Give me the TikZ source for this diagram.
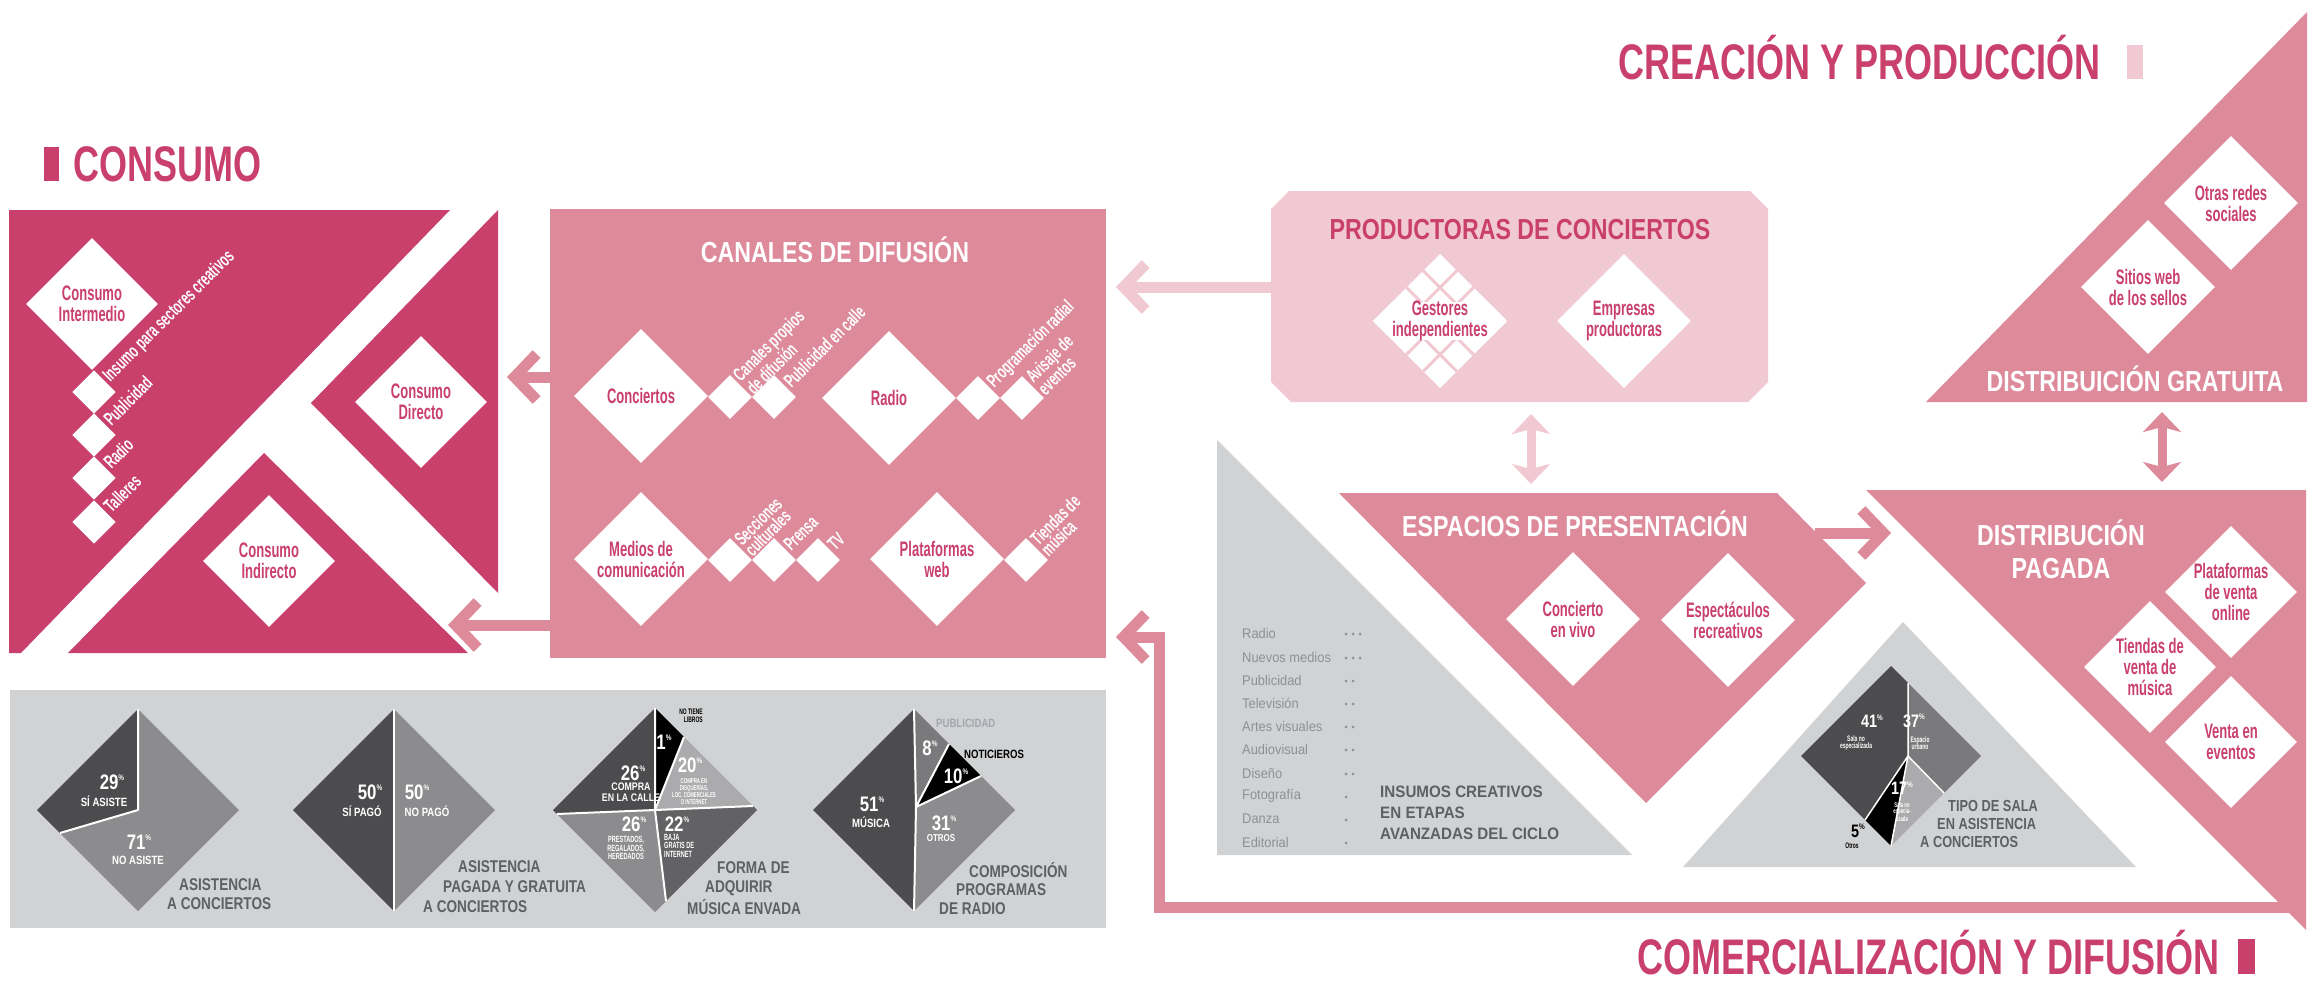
\documentclass[tikz,border=0pt]{standalone}
\usepackage{fontspec}
\setmainfont{Liberation Sans}
\newfontfamily\narrowfont[FakeStretch=0.62]{Liberation Sans}
\newfontfamily\titlefont[FakeStretch=0.8]{Liberation Sans}
\newfontfamily\headfont[FakeStretch=0.72]{Liberation Sans}
\newfontfamily\listfont[FakeStretch=0.92]{Liberation Sans}
\usetikzlibrary{shapes.geometric,arrows.meta}

\definecolor{deeppink}{HTML}{C9406C}
\definecolor{midpink}{HTML}{DD8A9B}
\definecolor{palepink}{HTML}{F1C9D2}
\definecolor{panelgray}{HTML}{D1D2D4}
\definecolor{inkgray}{HTML}{5F6062}
\definecolor{listgray}{HTML}{8F9092}
\definecolor{pieA}{HTML}{4C4C4E}
\definecolor{pieB}{HTML}{8C8C8E}
\definecolor{pieC}{HTML}{ABABAD}
\definecolor{pieD}{HTML}{626264}
\definecolor{pieE}{HTML}{7A7A7C}
\definecolor{pubgray}{HTML}{A4A5AE}

\newcommand\pctsign{\raisebox{0.42em}{\fontsize{8}{8}\selectfont\%}}

\begin{document}
\begin{tikzpicture}[x=1pt,y=-1pt,
  gem/.style={diamond,fill=white,inner sep=0pt,minimum width=#1,minimum height=#1},
  gem/.default=134pt,
  gemtext/.style={font={\narrowfont\bfseries\fontsize{21}{21}\selectfont},text=deeppink,align=center,inner sep=0pt},
  chip/.style={diamond,fill=white,inner sep=0pt,minimum width=44pt,minimum height=44pt},
  tag/.style={font={\narrowfont\bfseries\fontsize{19}{15}\selectfont},text=white,rotate=45,anchor=west,align=left,inner sep=1pt},
  section/.style={font={\titlefont\bfseries\fontsize{29}{33}\selectfont},text=white,align=center,inner sep=0pt},
  headline/.style={font={\headfont\bfseries\fontsize{50}{50}\selectfont},text=deeppink,inner sep=0pt},
  pct/.style={font={\titlefont\bfseries\fontsize{21}{21}\selectfont},text=white,inner sep=0pt},
  note/.style={font={\titlefont\bfseries\fontsize{12}{11.5}\selectfont},text=white,align=center,inner sep=0pt},
  tiny/.style={font={\narrowfont\bfseries\fontsize{9}{8.5}\selectfont},text=white,align=center,inner sep=0pt},
  caption/.style={font={\titlefont\bfseries\fontsize{17}{20}\selectfont},text=inkgray,inner sep=0pt,anchor=west},
  listitem/.style={font={\listfont\fontsize{14}{14}\selectfont},text=listgray,inner sep=0pt,anchor=west},
  flow/.style={line width=11pt,-{Straight Barb[length=22pt,width=46pt,sharp]}},
  twoway/.style={line width=9pt,{Stealth[length=20pt,width=38pt,inset=5pt]}-{Stealth[length=20pt,width=38pt,inset=5pt]}},
  seam/.style={white,line width=2pt,line join=round},
]
\fill[white] (0,0) rectangle (2319,982);
\useasboundingbox (0,0) rectangle (2319,982);

% ---------- headlines ----------
\fill[deeppink] (44,147) rectangle (59,181);
\node[headline,anchor=base west] (hcons) at (73,181) {CONSUMO};
\fill[palepink] (2127,45) rectangle (2143,79);
\node[headline,anchor=base east] (hcrea) at (2101,79) {CREACIÓN Y PRODUCCIÓN};
\fill[deeppink] (2238,939) rectangle (2255,974);
\node[headline,anchor=base east] (hcom) at (2220,974) {COMERCIALIZACIÓN Y DIFUSIÓN};

% ---------- consumo block ----------
\fill[deeppink] (9,210) -- (450,210) -- (21,653) -- (9,653) -- cycle;
\fill[deeppink] (498,210) -- (498,593) -- (311,403) -- cycle;
\fill[deeppink] (264,453) -- (468,653) -- (68,653) -- cycle;

\node[gem=132pt] (cint) at (92,304) {};
\node[gemtext] (cintT) at (cint) {Consumo\\Intermedio};
\foreach \yy/\lab [count=\i] in {392/Insumo para sectores creativos,435/Publicidad,478/Radio,522/Talleres}{
  \node[chip,minimum width=43.4pt,minimum height=43.4pt] (cchip\i) at (94,\yy) {};
  \node[tag] (ctag\i) at (106,\yy-12) {\lab};
}
\node[gem=132pt] (cdir) at (421,402) {};
\node[gemtext] (cdirT) at (cdir) {Consumo\\Directo};
\node[gem=132pt] (cind) at (269,561) {};
\node[gemtext] (cindT) at (cind) {Consumo\\Indirecto};

% ---------- canales de difusion ----------
\node[fill=midpink,minimum width=556pt,minimum height=449pt,inner sep=0pt,anchor=north west] (canales) at (550,209) {};
\node[section] (canT) at (835,250) {CANALES DE DIFUSIÓN};

\node[gem] (conc) at (641,396) {};
\node[gemtext] (concT) at (conc) {Conciertos};
\node[chip] (k1) at (730,397) {};
\node[chip] (k2) at (774,397) {};
\node[tag] (t1) at (742,385) {Canales propios\\de difusión};
\node[tag] (t2) at (786,385) {Publicidad en calle};

\node[gem] (radio) at (889,398) {};
\node[gemtext] (radioT) at (radio) {Radio};
\node[chip] (k3) at (978,398) {};
\node[chip] (k4) at (1022,398) {};
\node[tag] (t3) at (990,386) {Programación radial};
\node[tag] (t4) at (1034,386) {Avisaje de\\eventos};

\node[gem] (medios) at (641,559) {};
\node[gemtext] (mediosT) at (medios) {Medios de\\comunicación};
\node[chip] (k5) at (730,560) {};
\node[chip] (k6) at (774,560) {};
\node[chip] (k7) at (818,560) {};
\node[tag] (t5) at (742,548) {Secciones\\culturales};
\node[tag] (t6) at (786,548) {Prensa};
\node[tag] (t7) at (830,548) {TV};

\node[gem] (plat) at (937,559) {};
\node[gemtext] (platT) at (plat) {Plataformas\\web};
\node[chip] (k8) at (1026,560) {};
\node[tag] (t8) at (1038,548) {Tiendas de\\música};

% arrows canales -> consumo
\coordinate (dirTip) at (507,377);
\coordinate (indTip) at (448,625);
\draw[flow,midpink] (canales.west |- dirTip) -- (dirTip);
\draw[flow,midpink] (canales.west |- indTip) -- (indTip);

% ---------- productoras ----------
\fill[palepink] (1289,191) -- (1750,191) -- (1768,209) -- (1768,382) -- (1748,402)
  -- (1291,402) -- (1271,382) -- (1271,209) -- cycle;
\node[section,text=deeppink] (prodT) at (1520,230) {PRODUCTORAS DE CONCIERTOS};
\coordinate (prodW) at (1271,287);
\coordinate (prodTip) at (1116,287);
\draw[flow,palepink] (prodW) -- (prodTip);

\begin{scope}
  \clip (1440,254) -- (1507,321) -- (1440,388) -- (1373,321) -- cycle;
  \fill[white] (1373,254) rectangle (1507,388);
  \foreach \c in {1727.5,1761,1794.5}
    \draw[palepink,line width=3pt] (\c-250,250) -- (\c-395,395);
  \foreach \d in {1085.5,1119,1152.5}
    \draw[palepink,line width=3pt] (\d+250,250) -- (\d+395,395);
  \fill[white] (1373,302) rectangle (1507,340);
\end{scope}
\node[gemtext] (gest) at (1440,321) {Gestores\\independientes};
\node[gem] (empr) at (1624,321) {};
\node[gemtext] (emprT) at (empr) {Empresas\\productoras};

\coordinate (prodS) at (1531,414);
\coordinate (espN) at (1531,484);
\draw[twoway,palepink] (prodS) -- (espN);

% ---------- insumos creativos ----------
\fill[panelgray] (1217,440) -- (1632,855) -- (1217,855) -- cycle;
\foreach \nm/\nd/\yy [count=\i] in {Radio/3/633,Nuevos medios/3/657,Publicidad/2/680,Televisión/2/703,Artes visuales/2/726,Audiovisual/2/749,Diseño/2/773,Fotografía/1/796,Danza/1/819,Editorial/1/842}{
  \node[listitem] (ins\i) at (1242,\yy) {\nm};
  \foreach \k in {1,...,\nd} \fill[listgray] (1339+7*\k,\yy+1) circle (1.5pt);
}
\node[caption,font={\listfont\bfseries\fontsize{16.5}{21}\selectfont},align=left,anchor=north west] (insT) at (1380,786)
  {INSUMOS CREATIVOS\\EN ETAPAS\\AVANZADAS DEL CICLO};

% ---------- espacios de presentacion ----------
\fill[midpink] (1339,493) -- (1777,493) -- (1866,583) -- (1646,803) -- cycle;
\node[section] (espT) at (1575,524) {ESPACIOS DE PRESENTACIÓN};
\node[gem] (cviv) at (1573,619) {};
\node[gemtext] (cvivT) at (cviv) {Concierto\\en vivo};
\node[gem] (espc) at (1728,620) {};
\node[gemtext] (espcT) at (espc) {Espectáculos\\recreativos};

% ---------- distribucion gratuita ----------
\fill[midpink] (1926,402) -- (2307,402) -- (2307,12) -- cycle;
\node[gem] (otras) at (2231,203) {};
\node[gemtext] (otrasT) at (otras) {Otras redes\\sociales};
\node[gem] (sitios) at (2148,287) {};
\node[gemtext] (sitiosT) at (sitios) {Sitios web\\de los sellos};
\node[section] (gratT) at (2135,379) {DISTRIBUICIÓN GRATUITA};

\coordinate (gratS) at (2162,412);
\coordinate (pagN) at (2162,482);
\draw[twoway,midpink] (gratS) -- (pagN);

% ---------- distribucion pagada ----------
\fill[midpink] (1866,490) -- (2306,490) -- (2306,930) -- cycle;
\node[section] (pagT) at (2061,549) {DISTRIBUCIÓN\\PAGADA};
\node[gem=132pt] (pven) at (2231,592) {};
\node[gemtext] (pvenT) at (pven) {Plataformas\\de venta\\online};
\node[gem=132pt] (tven) at (2150,667) {};
\node[gemtext] (tvenT) at (tven) {Tiendas de\\venta de\\música};
\node[gem=132pt] (even) at (2231,742) {};
\node[gemtext] (evenT) at (even) {Venta en\\eventos};

\coordinate (espE) at (1815,533);
\coordinate (pagW) at (1891,533);
\draw[flow,midpink] (espE) -- (pagW);

% return path towards canales
\coordinate (ret0) at (2292,907);
\coordinate (ret1) at (1159,637);
\coordinate (retTip) at (1116,637);
\draw[flow,midpink,line join=miter] (ret0) -| (ret1) -- (retTip);

% ---------- tipo de sala ----------
\fill[panelgray] (1903,622) -- (2136,867) -- (1683,867) -- cycle;
\fill[pieA] (1801,756) -- (1891,666) -- (1908,683) -- (1908,756) -- (1865,820) -- cycle;
\fill[pieE] (1908,683) -- (1981,756) -- (1944,793) -- (1908,756) -- cycle;
\fill[pieC] (1908,756) -- (1944,793) -- (1891,846) -- cycle;
\fill[black] (1908,756) -- (1891,846) -- (1865,820) -- cycle;
\draw[seam,line width=1.5pt] (1908,683) -- (1908,756) -- (1944,793);
\draw[seam,line width=1.5pt] (1865,820) -- (1908,756) -- (1891,846);
\node[pct,font={\titlefont\bfseries\fontsize{18}{18}\selectfont}] (s41) at (1872,721) {41\pctsign};
\node[tiny,font={\narrowfont\bfseries\fontsize{8}{7.5}\selectfont}] (s41l) at (1856,743) {Sala no\\especializada};
\node[pct,font={\titlefont\bfseries\fontsize{18}{18}\selectfont}] (s37) at (1914,721) {37\pctsign};
\node[tiny,font={\narrowfont\bfseries\fontsize{8}{7.5}\selectfont}] (s37l) at (1920,743) {Espacio\\urbano};
\node[pct,font={\titlefont\bfseries\fontsize{18}{18}\selectfont}] (s17) at (1902,788) {17\pctsign};
\node[tiny,font={\narrowfont\bfseries\fontsize{7}{6.5}\selectfont}] (s17l) at (1902,812) {Sala no\\especia-\\lizada};
\node[pct,text=black,font={\titlefont\bfseries\fontsize{18}{18}\selectfont}] (s5) at (1858,831) {5\pctsign};
\node[tiny,text=black,font={\narrowfont\bfseries\fontsize{8}{8}\selectfont}] (s5l) at (1852,846) {Otros};
\node[caption,font={\titlefont\bfseries\fontsize{16}{16}\selectfont}] (tipo1) at (1948,806) {TIPO DE SALA};
\node[caption,font={\titlefont\bfseries\fontsize{16}{16}\selectfont}] (tipo2) at (1937,824) {EN ASISTENCIA};
\node[caption,font={\titlefont\bfseries\fontsize{16}{16}\selectfont}] (tipo3) at (1920,842) {A CONCIERTOS};

% ---------- bottom panel of charts ----------
\node[fill=panelgray,minimum width=1096pt,minimum height=238pt,inner sep=0pt,anchor=north west] (panel) at (10,690) {};

% asistencia a conciertos
\fill[pieB] (138,709) -- (239,810) -- (138,911) -- (60,833) -- (138,810) -- cycle;
\fill[pieA] (37,810) -- (138,709) -- (138,810) -- (60,833) -- cycle;
\draw[seam] (138,709) -- (138,810) -- (60,833);
\node[pct] (a29) at (112,782) {29\pctsign};
\node[note] (a29l) at (104,801) {SÍ ASISTE};
\node[pct] (a71) at (139,842) {71\pctsign};
\node[note] (a71l) at (138,860) {NO ASISTE};
\node[caption] (a1) at (179,885) {ASISTENCIA};
\node[caption] (a2) at (167,904) {A CONCIERTOS};

% asistencia pagada y gratuita
\fill[pieA] (293,810) -- (394,709) -- (394,911) -- cycle;
\fill[pieB] (495,810) -- (394,709) -- (394,911) -- cycle;
\draw[seam] (394,709) -- (394,911);
\node[pct] (b50a) at (370,792) {50\pctsign};
\node[note] (b50al) at (362,811) {SÍ PAGÓ};
\node[pct] (b50b) at (417,792) {50\pctsign};
\node[note] (b50bl) at (427,811) {NO PAGÓ};
\node[caption] (b1) at (458,867) {ASISTENCIA};
\node[caption] (b2) at (443,887) {PAGADA Y GRATUITA};
\node[caption] (b3) at (423,907) {A CONCIERTOS};

% forma de adquirir musica
\fill[pieA] (557,814) -- (553,810) -- (655,708) -- (655,810) -- cycle;
\fill[black] (655,708) -- (684,737) -- (655,810) -- cycle;
\fill[pieC] (684,737) -- (753,806) -- (655,810) -- cycle;
\fill[pieD] (655,810) -- (753,806) -- (757,810) -- (666,901) -- cycle;
\fill[pieB] (557,814) -- (655,810) -- (666,901) -- (655,912) -- cycle;
\draw[seam] (557,814) -- (655,810) -- (753,806);
\draw[seam] (655,708) -- (655,810) -- (666,901);
\draw[seam] (684,737) -- (655,810);
\node[pct] (f1) at (664,742) {1\pctsign};
\node[tiny,text=black,align=right,font={\narrowfont\bfseries\fontsize{8}{8}\selectfont}] (f1l) at (691,716) {NO TIENE\\LIBROS};
\node[pct] (f26a) at (633,773) {26\pctsign};
\node[note,font={\titlefont\bfseries\fontsize{11}{10.5}\selectfont}] (f26al) at (631,792) {COMPRA\\EN LA CALLE};
\node[pct] (f20) at (690,765) {20\pctsign};
\node[tiny,font={\narrowfont\bfseries\fontsize{7}{7}\selectfont}] (f20l) at (694,792) {COMPRA EN\\DISQUERÍAS,\\LOC. COMERCIALES\\O INTERNET};
\node[pct] (f26b) at (634,824) {26\pctsign};
\node[tiny,font={\narrowfont\bfseries\fontsize{9}{8.5}\selectfont}] (f26bl) at (626,848) {PRESTADOS,\\REGALADOS,\\HEREDADOS};
\node[pct] (f22) at (677,824) {22\pctsign};
\node[tiny,align=left,anchor=north west,font={\narrowfont\bfseries\fontsize{9}{8.5}\selectfont}] (f22l) at (664,834) {BAJA\\GRATIS DE\\INTERNET};
\node[caption] (fc1) at (717,868) {FORMA DE};
\node[caption] (fc2) at (705,888) {ADQUIRIR};
\node[caption] (fc3) at (687,907) {MÚSICA ENVADA};

% composicion programas de radio
\fill[pieA] (813,810) -- (914,709) -- (916,807) -- (914,911) -- cycle;
\fill[pieE] (914,709) -- (949,744) -- (916,807) -- cycle;
\fill[black] (949,744) -- (981,776) -- (916,807) -- cycle;
\fill[pieB] (916,807) -- (981,776) -- (1015,810) -- (914,911) -- cycle;
\draw[seam] (914,709) -- (916,807) -- (914,911);
\draw[seam] (949,744) -- (916,807) -- (981,776);
\node[pct] (r8) at (930,748) {8\pctsign};
\node[note,text=pubgray,anchor=west] (r8l) at (936,723) {PUBLICIDAD};
\node[note,text=black,anchor=west] (r10l) at (964,754) {NOTICIEROS};
\node[pct] (r10) at (956,776) {10\pctsign};
\node[pct] (r51) at (872,804) {51\pctsign};
\node[note] (r51l) at (871,822) {MÚSICA};
\node[pct] (r31) at (944,823) {31\pctsign};
\node[note,font={\titlefont\bfseries\fontsize{10}{10}\selectfont}] (r31l) at (941,838) {OTROS};
\node[caption] (rc1) at (969,870) {COMPOSICIÓN};
\node[caption] (rc2) at (956,890) {PROGRAMAS};
\node[caption] (rc3) at (939,909) {DE RADIO};
\end{tikzpicture}
\end{document}
